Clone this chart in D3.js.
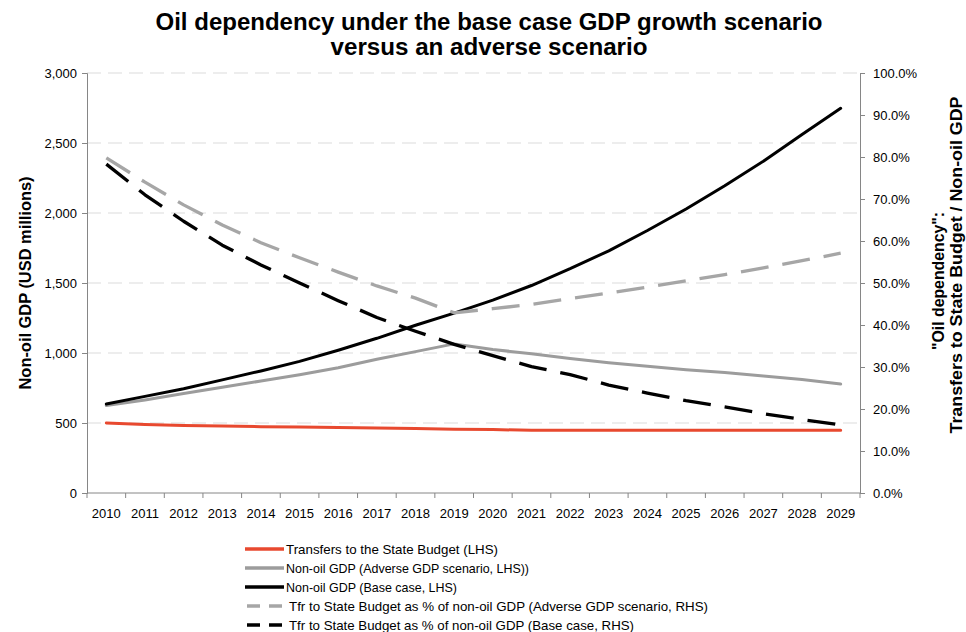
<!DOCTYPE html>
<html>
<head>
<meta charset="utf-8">
<script src="https://cdn.jsdelivr.net/npm/d3@7"></script>
<style>
  html, body { margin: 0; padding: 0; background: #fff; }
  svg { display: block; font-family: "Liberation Sans", Arial, sans-serif; }
  .axis path, .axis line { stroke: #868686; }
  .axis text { fill: #000; font-size: 13px; }
</style>
</head>
<body>
<svg id="chart" width="966" height="632"></svg>
<script>
const years = ["2010","2011","2012","2013","2014","2015","2016","2017","2018","2019",
               "2020","2021","2022","2023","2024","2025","2026","2027","2028","2029"];
const transfers  = [500,490,483,478,474,471,467,464,460,455,453,448,448,448,448,448,448,448,448,448];
const adverseGdp = [625,665,710,755,800,845,895,955,1010,1065,1025,995,960,930,905,880,860,835,810,778];
const baseGdp    = [636,690,745,808,872,940,1020,1105,1198,1285,1378,1482,1602,1730,1875,2029,2195,2370,2560,2748];
const adversePct = [79.8,74.0,68.6,63.8,59.6,56.0,52.6,49.3,46.4,42.9,43.9,44.9,46.3,47.6,49.0,50.5,52.0,53.6,55.3,57.1];
const basePct    = [78.3,71.0,64.7,59.0,54.3,50.0,45.8,41.8,38.5,35.4,32.7,30.1,28.2,25.7,23.8,22.0,20.5,18.9,17.5,16.2];
const leftTicks  = [0,500,1000,1500,2000,2500,3000];
const rightTicks = [0,10,20,30,40,50,60,70,80,90,100];
const titleLines = ["Oil dependency under the base case GDP growth scenario", "versus an adverse scenario"];
const leftLabel  = "Non-oil GDP (USD millions)";
const rightLabel = ["\"Oil dependency\":", "Transfers to State Budget / Non-oil GDP"];

const series = [
  {name: "Transfers to the State Budget (LHS)", values: transfers, axis: "L", color: "#E8492F", dash: null, w: 212},
  {name: "Non-oil GDP (Adverse GDP scenario, LHS))", values: adverseGdp, axis: "L", color: "#9C9C9C", dash: null, w: 243},
  {name: "Non-oil GDP (Base case, LHS)", values: baseGdp, axis: "L", color: "#000000", dash: null, w: 171},
  {name: "Tfr to State Budget as % of non-oil GDP (Adverse GDP scenario, RHS)", values: adversePct, axis: "R", color: "#A6A6A6", dash: "28,14", w: 419},
  {name: "Tfr to State Budget as % of non-oil GDP (Base case, RHS)", values: basePct, axis: "R", color: "#000000", dash: "28,14", w: 345}
];

const svg = d3.select("#chart");
const L = 87, R = 860, T = 73, B = 493;

const x = d3.scaleBand().domain(years).range([L, R]);
const yL = d3.scaleLinear().domain([0, 3000]).range([B, T]);
const yR = d3.scaleLinear().domain([0, 100]).range([B, T]);

// gridlines
svg.append("g").selectAll("line").data(leftTicks.filter(d => d > 0)).join("line")
  .attr("x1", L).attr("x2", R)
  .attr("y1", d => yL(d)).attr("y2", d => yL(d))
  .attr("stroke", "#E8E8E8").attr("stroke-width", 1.3).attr("stroke-dasharray", "14,7");

// left axis
svg.append("g").attr("class", "axis").attr("transform", `translate(${L},0)`)
  .call(d3.axisLeft(yL).tickValues(leftTicks).tickFormat(d3.format(",")).tickSize(5).tickPadding(5));
// right axis
svg.append("g").attr("class", "axis").attr("transform", `translate(${R},0)`)
  .call(d3.axisRight(yR).tickValues(rightTicks).tickFormat(d => d.toFixed(1) + "%").tickSize(5).tickPadding(8));
// bottom axis: labels at band centers
const xa = svg.append("g").attr("class", "axis").attr("transform", `translate(0,${B})`)
  .call(d3.axisBottom(x).tickSize(0).tickPadding(16));
xa.select(".domain").remove();
svg.append("line").attr("x1", L).attr("x2", R).attr("y1", B).attr("y2", B).attr("stroke", "#868686");
// bottom ticks at band boundaries
svg.append("g").selectAll("line").data(years.map(d => x(d)).concat([R])).join("line")
  .attr("x1", d => d).attr("x2", d => d).attr("y1", B).attr("y2", B + 5)
  .attr("stroke", "#868686");

// lines
series.forEach(s => {
  const ys = s.axis === "L" ? yL : yR;
  const line = d3.line().x((d, i) => x(years[i]) + x.bandwidth() / 2).y(d => ys(d));
  svg.append("path").datum(s.values)
    .attr("d", line)
    .attr("fill", "none")
    .attr("stroke", s.color)
    .attr("stroke-width", s.dash ? 3.3 : 3)
    .attr("stroke-linejoin", "round")
    .attr("stroke-linecap", s.dash ? "butt" : "round")
    .attr("stroke-dasharray", s.dash);
});

// title
const titleW = [667, 317];
svg.append("g").selectAll("text").data(titleLines).join("text")
  .attr("x", 489).attr("y", (d, i) => 30 + i * 25)
  .attr("text-anchor", "middle").attr("font-size", 23).attr("font-weight", "bold")
  .attr("textLength", (d, i) => titleW[i]).attr("lengthAdjust", "spacingAndGlyphs")
  .text(d => d);

// axis labels
svg.append("text").attr("transform", "translate(31,283) rotate(-90)")
  .attr("text-anchor", "middle").attr("font-size", 16).attr("font-weight", "bold")
  .attr("textLength", 213).attr("lengthAdjust", "spacingAndGlyphs")
  .text(leftLabel);
svg.append("text").attr("transform", "translate(944,281) rotate(-90)")
  .attr("text-anchor", "middle").attr("font-size", 16).attr("font-weight", "bold")
  .attr("textLength", 138).attr("lengthAdjust", "spacingAndGlyphs")
  .text(rightLabel[0]);
svg.append("text").attr("transform", "translate(962,265) rotate(-90)")
  .attr("text-anchor", "middle").attr("font-size", 16).attr("font-weight", "bold")
  .attr("textLength", 337).attr("lengthAdjust", "spacingAndGlyphs")
  .text(rightLabel[1]);

// legend
const lg = svg.append("g");
series.forEach((s, i) => {
  const yy = 549 + i * 19;
  lg.append("line")
    .attr("x1", s.dash ? 247 : 245).attr("x2", s.dash ? 282 : 284)
    .attr("y1", yy).attr("y2", yy)
    .attr("stroke", s.color).attr("stroke-width", 3.3)
    .attr("stroke-dasharray", s.dash ? "13,9" : null);
  lg.append("text").attr("x", s.dash ? 289 : 286).attr("y", yy + 4.5)
    .attr("font-size", 13).attr("fill", "#000")
    .attr("textLength", s.w).attr("lengthAdjust", "spacingAndGlyphs")
    .text(s.name);
});
</script>
</body>
</html>
